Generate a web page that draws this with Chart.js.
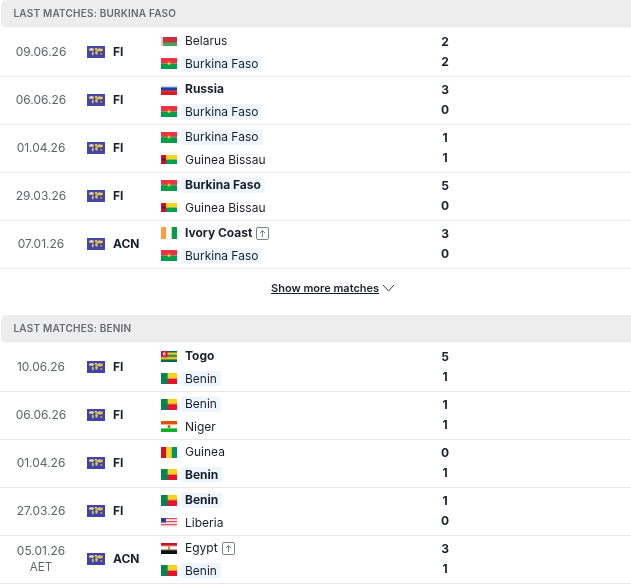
<!DOCTYPE html>
<html lang="en">
<head>
<meta charset="UTF-8">
<title>Last matches</title>
<script src="https://cdn.jsdelivr.net/npm/chart.js"></script>
<style>
  html, body { margin: 0; padding: 0; background: #fff; }
  canvas { display: block; }
</style>
</head>
<body>
<canvas id="matches" width="631" height="586"></canvas>
<script>
// Burkina Faso
const bfTitle = 'LAST MATCHES: BURKINA FASO';
const bfDates = ['09.06.26', '06.06.26', '01.04.26', '29.03.26', '07.01.26'];
const bfComps = ['FI', 'FI', 'FI', 'FI', 'ACN'];
const bfHome = ['Belarus', 'Russia', 'Burkina Faso', 'Burkina Faso', 'Ivory Coast'];
const bfAway = ['Burkina Faso', 'Burkina Faso', 'Guinea Bissau', 'Guinea Bissau', 'Burkina Faso'];
const bfHomeGoals = [2, 3, 1, 5, 3];
const bfAwayGoals = [2, 0, 1, 0, 0];
const bfNotes = ['', '', '', '', ''];

// Benin
const bnTitle = 'LAST MATCHES: BENIN';
const bnDates = ['10.06.26', '06.06.26', '01.04.26', '27.03.26', '05.01.26'];
const bnComps = ['FI', 'FI', 'FI', 'FI', 'ACN'];
const bnHome = ['Togo', 'Benin', 'Guinea', 'Benin', 'Egypt'];
const bnAway = ['Benin', 'Niger', 'Benin', 'Liberia', 'Benin'];
const bnHomeGoals = [5, 1, 0, 1, 3];
const bnAwayGoals = [1, 1, 1, 0, 1];
const bnNotes = ['', '', '', '', 'AET'];

const advanced = ['Ivory Coast', 'Egypt'];
const moreLabel = 'Show more matches';

// layout
const FONT = 'Inter, "Noto Sans", sans-serif';
const ROW_H = 48;
const SEC1_TOP = 28;
const SEC2_TOP = 343;
const X_DATE = 41, X_LOGO = 96, X_COMP = 113, X_FLAG = 169, X_TEAM = 185, X_SCORE = 445;

function makeCanvas(w, h, paint) {
  const c = document.createElement('canvas');
  c.width = w; c.height = h;
  paint(c.getContext('2d'), w, h);
  return c;
}
function hBands(colors) {
  return (g, w, h) => colors.forEach((col, i) => {
    g.fillStyle = col;
    g.fillRect(0, i * h / colors.length, w, h / colors.length);
  });
}
function star(g, x, y, r, col) {
  g.fillStyle = col;
  g.beginPath();
  for (let i = 0; i < 10; i++) {
    const a = -Math.PI / 2 + i * Math.PI / 5, rr = i % 2 ? r * 0.45 : r;
    g.lineTo(x + rr * Math.cos(a), y + rr * Math.sin(a));
  }
  g.fill();
}

const flags = {
  'Belarus': makeCanvas(16, 9, (g, w, h) => {
    g.fillStyle = '#c8313e'; g.fillRect(0, 0, w, 6);
    g.fillStyle = '#4aa657'; g.fillRect(0, 6, w, 3);
    g.fillStyle = '#e8c8c0'; g.fillRect(0, 0, 2, h);
  }),
  'Burkina Faso': makeCanvas(16, 11, (g, w, h) => {
    hBands(['#ef3340', '#009e49'])(g, w, h);
    star(g, 8, 5.5, 2.2, '#fcd116');
  }),
  'Russia': makeCanvas(16, 11, hBands(['#f6f6f8', '#1c3fa8', '#e4181c'])),
  'Guinea Bissau': makeCanvas(16, 9, (g, w, h) => {
    hBands(['#fcd116', '#009e49'])(g, w, h);
    g.fillStyle = '#ce1126'; g.fillRect(0, 0, 5, h);
    star(g, 2.5, 4.5, 1.8, '#222');
  }),
  'Ivory Coast': makeCanvas(16, 12, (g, w, h) => {
    g.fillStyle = '#ff9f3c'; g.fillRect(0, 0, 5.3, h);
    g.fillStyle = '#ffffff'; g.fillRect(5.3, 0, 5.4, h);
    g.fillStyle = '#0a9a48'; g.fillRect(10.7, 0, 5.3, h);
  }),
  'Togo': makeCanvas(16, 11, (g, w, h) => {
    hBands(['#006a4e', '#ffce00', '#006a4e', '#ffce00', '#006a4e'])(g, w, h);
    g.fillStyle = '#d21034'; g.fillRect(0, 0, 6.5, 6.6);
    star(g, 3.2, 3.3, 2, '#fff');
  }),
  'Benin': makeCanvas(16, 11, (g, w, h) => {
    hBands(['#fcd116', '#e8112d'])(g, w, h);
    g.fillStyle = '#008751'; g.fillRect(0, 0, 6.6, h);
  }),
  'Niger': makeCanvas(16, 11, (g, w, h) => {
    hBands(['#e05206', '#ffffff', '#0db02b'])(g, w, h);
    g.fillStyle = '#e05206';
    g.beginPath(); g.arc(8, 5.5, 1.5, 0, 7); g.fill();
  }),
  'Guinea': makeCanvas(16, 11, (g, w, h) => {
    g.fillStyle = '#ce1126'; g.fillRect(0, 0, 5.3, h);
    g.fillStyle = '#fcd116'; g.fillRect(5.3, 0, 5.4, h);
    g.fillStyle = '#009460'; g.fillRect(10.7, 0, 5.3, h);
  }),
  'Liberia': makeCanvas(16, 9, (g, w, h) => {
    hBands(['#d9505c', '#f6e6e8', '#d9505c', '#f6e6e8', '#d9505c', '#f6e6e8'])(g, w, h);
    g.fillStyle = '#2a3f88'; g.fillRect(0, 0, 5, 4.5);
  }),
  'Egypt': makeCanvas(16, 11, (g, w, h) => {
    hBands(['#ce1126', '#ffffff', '#111111'])(g, w, h);
    g.fillStyle = '#c09300'; g.fillRect(7, 4.2, 2, 2.6);
  })
};

// competition logo: blue card with a soft yellow world map
const worldLogo = makeCanvas(18, 12, (g, w, h) => {
  g.fillStyle = '#4444a8'; g.fillRect(0, 0, w, h);
  const blob = (x, y, rx, ry, col) => {
    g.fillStyle = col;
    g.beginPath(); g.ellipse(x, y, rx, ry, 0, 0, 7); g.fill();
  };
  blob(4.5, 3.6, 2.6, 1.5, '#e6d27a');
  blob(5.8, 7.5, 1, 2, '#d8bc4a');
  blob(9, 3, 1.3, 1, '#d8d0a0');
  blob(9.5, 6.5, 1.3, 2.2, '#dfc44e');
  blob(13, 3.8, 3, 1.6, '#e2c850');
  blob(14.3, 8, 1.1, 0.8, '#d8bc4a');
});

const sections = [
  { top: SEC1_TOP, headTop: 0, title: bfTitle, dates: bfDates, comps: bfComps, home: bfHome, away: bfAway, hg: bfHomeGoals, ag: bfAwayGoals, notes: bfNotes, team: 'Burkina Faso' },
  { top: SEC2_TOP, headTop: 315, title: bnTitle, dates: bnDates, comps: bnComps, home: bnHome, away: bnAway, hg: bnHomeGoals, ag: bnAwayGoals, notes: bnNotes, team: 'Benin' }
];

// flags and competition logos are points on the chart
const flagPoints = [], flagImages = [], logoPoints = [];
sections.forEach(s => {
  s.dates.forEach((d, i) => {
    const mid = s.top + ROW_H * i + ROW_H / 2;
    logoPoints.push({ x: X_LOGO, y: mid });
    flagPoints.push({ x: X_FLAG, y: mid - 11 });
    flagImages.push(flags[s.home[i]]);
    flagPoints.push({ x: X_FLAG, y: mid + 11.5 });
    flagImages.push(flags[s.away[i]]);
  });
});

const tablePlugin = {
  id: 'table',
  beforeDatasetsDraw(chart) {
    const g = chart.ctx, X = chart.scales.x, Y = chart.scales.y;
    const px = v => X.getPixelForValue(v), py = v => Y.getPixelForValue(v);
    g.save();
    sections.forEach(s => {
      g.fillStyle = '#ededed';
      g.beginPath();
      g.roundRect(px(1), py(s.headTop), px(640) - px(1), py(s.top - 0.5) - py(s.headTop), 5);
      g.fill();
      g.strokeStyle = '#e6e8ea';
      g.lineWidth = 1;
      s.dates.forEach((d, i) => {
        const yy = Math.round(py(s.top + ROW_H * (i + 1))) + 0.5;
        g.beginPath(); g.moveTo(px(0), yy); g.lineTo(px(631), yy); g.stroke();
      });
    });
    g.restore();
  },
  afterDatasetsDraw(chart) {
    const g = chart.ctx, X = chart.scales.x, Y = chart.scales.y;
    const px = v => X.getPixelForValue(v), py = v => Y.getPixelForValue(v);
    const text = (str, x, y, font, col, align) => {
      g.font = font; g.fillStyle = col; g.textAlign = align || 'left';
      g.fillText(str, px(x), py(y + 0.5));
    };
    g.save();
    g.textBaseline = 'middle';
    sections.forEach(s => {
      g.letterSpacing = '0.2px';
      text(s.title, 13.5, s.headTop + 13.5, '600 10px ' + FONT, '#666b70');
      g.letterSpacing = '0px';
      s.dates.forEach((d, i) => {
        const mid = s.top + ROW_H * i + ROW_H / 2;
        if (s.notes[i]) {
          text(d, X_DATE, mid - 8, '12px ' + FONT, '#5f6468', 'center');
          text(s.notes[i], X_DATE, mid + 8, '11.5px ' + FONT, '#5f6468', 'center');
        } else {
          text(d, X_DATE, mid, '12px ' + FONT, '#5f6468', 'center');
        }
        text(s.comps[i], X_COMP, mid, '700 12px ' + FONT, '#18202c');
        const homeWin = s.hg[i] > s.ag[i] && !s.notes[i];
        const awayWin = s.ag[i] > s.hg[i] && !s.notes[i];
        teamLabel(g, px, py, text, s.home[i], mid - 11, homeWin, s.team);
        teamLabel(g, px, py, text, s.away[i], mid + 11.5, awayWin, s.team);
        text(String(s.hg[i]), X_SCORE, mid - 10, '700 12px ' + FONT, '#18202c', 'center');
        text(String(s.ag[i]), X_SCORE, mid + 10, '700 12px ' + FONT, '#18202c', 'center');
      });
    });

    // show more link
    text(moreLabel, 271, 288, '600 11px ' + FONT, '#18202c');
    const w = g.measureText(moreLabel).width;
    g.strokeStyle = '#18202c'; g.lineWidth = 1;
    g.beginPath(); g.moveTo(px(271), py(293.5)); g.lineTo(px(271) + w, py(293.5)); g.stroke();
    g.strokeStyle = '#3a424c';
    g.beginPath();
    g.moveTo(px(383), py(285)); g.lineTo(px(388.5), py(291)); g.lineTo(px(394), py(285));
    g.stroke();
    g.restore();
  }
};

function teamLabel(g, px, py, text, name, y, bold, hilite) {
  const font = (bold ? '700 ' : '400 ') + '12px ' + FONT;
  g.font = font;
  const w = g.measureText(name).width;
  if (name === hilite) {
    g.fillStyle = '#eef6fd';
    g.beginPath();
    g.roundRect(px(X_TEAM - 4), py(y - 7.5), w + 8, 15.5, 3);
    g.fill();
  }
  text(name, X_TEAM, y, font, '#18202c');
  if (advanced.includes(name)) {
    const bx = Math.round(px(X_TEAM) + w + 4) + 0.5, by = Math.round(py(y - 6)) + 0.5;
    g.strokeStyle = '#7d8288'; g.lineWidth = 1;
    g.beginPath(); g.roundRect(bx, by, 12, 12, 1.5); g.stroke();
    g.beginPath();
    g.moveTo(bx + 6, by + 9.5); g.lineTo(bx + 6, by + 3);
    g.moveTo(bx + 3.5, by + 5.5); g.lineTo(bx + 6, by + 3); g.lineTo(bx + 8.5, by + 5.5);
    g.stroke();
  }
}

new Chart(document.getElementById('matches'), {
  type: 'scatter',
  data: {
    datasets: [
      { data: flagPoints, pointStyle: flagImages, pointRadius: 8, showLine: false, clip: false },
      { data: logoPoints, pointStyle: worldLogo, pointRadius: 9, showLine: false, clip: false }
    ]
  },
  options: {
    responsive: false,
    animation: false,
    layout: { padding: 0, autoPadding: false },
    plugins: { legend: { display: false }, tooltip: { enabled: false } },
    events: [],
    scales: {
      x: { type: 'linear', min: 0, max: 631, display: false },
      y: { type: 'linear', min: 0, max: 586, reverse: true, display: false }
    }
  },
  plugins: [tablePlugin]
});
</script>
</body>
</html>
